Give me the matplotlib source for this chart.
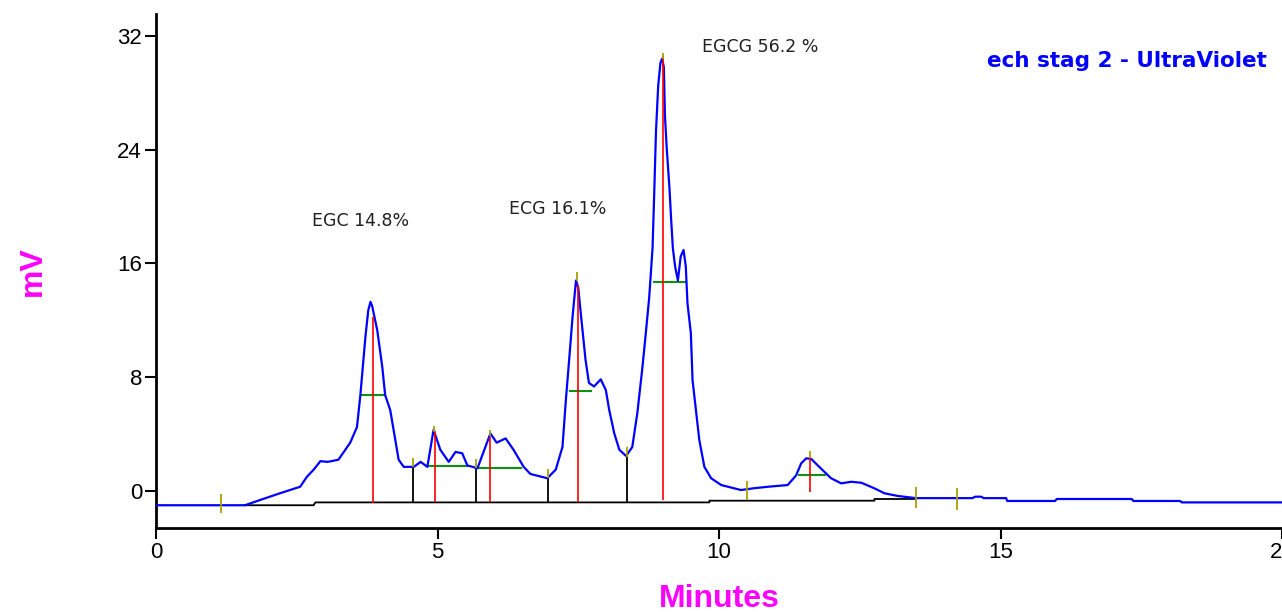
import matplotlib
matplotlib.use('Agg')
import matplotlib.pyplot as plt

# chromatogram trace (minutes, mV)
time = [0.0, 1.58, 1.85, 2.2, 2.56, 2.68, 2.8, 2.92, 3.05, 3.24, 3.45, 3.57, 3.63, 3.72, 3.77,
        3.81, 3.84, 3.93, 4.02, 4.07, 4.16, 4.25, 4.31, 4.40, 4.58, 4.70, 4.82, 4.93, 5.05,
        5.20, 5.32, 5.44, 5.53, 5.71, 5.94, 6.05, 6.21, 6.35, 6.53, 6.65, 6.95, 7.10, 7.22,
        7.28, 7.34, 7.40, 7.46, 7.50, 7.55, 7.63, 7.69, 7.78, 7.90, 7.99, 8.05, 8.14, 8.23,
        8.35, 8.46, 8.55, 8.64, 8.70, 8.76, 8.82, 8.85, 8.88, 8.92, 8.96, 8.99, 9.02, 9.04,
        9.07, 9.12, 9.15, 9.18, 9.22, 9.27, 9.32, 9.37, 9.41, 9.44, 9.50, 9.53, 9.59, 9.65,
        9.74, 9.86, 10.04, 10.39, 10.63, 10.87, 11.22, 11.37, 11.46, 11.55, 11.64, 11.78,
        11.99, 12.17, 12.35, 12.53, 12.76, 12.94, 13.18, 13.5, 14.5, 14.55, 14.66, 14.7,
        15.1, 15.12, 15.97, 16.0, 17.33, 17.36, 18.19, 18.22, 20.0]
signal = [-1.0, -1.0, -0.63, -0.16, 0.3, 1.0, 1.5, 2.1, 2.05, 2.2, 3.4, 4.5, 6.75, 10.85, 12.7,
          13.3, 13.0, 11.3, 8.7, 6.75, 5.7, 3.6, 2.2, 1.7, 1.7, 2.05, 1.7, 4.3, 2.9,
          2.05, 2.75, 2.65, 1.8, 1.6, 4.05, 3.4, 3.7, 2.9, 1.7, 1.2, 0.9, 1.5, 3.1,
          6.4, 9.3, 12.3, 14.8, 14.3, 12.3, 9.2, 7.6, 7.35, 7.85, 7.1, 5.7, 4.05, 2.9,
          2.46, 3.1, 5.5, 8.7, 11.1, 13.6, 17.1, 21.0, 25.2, 28.5, 30.1, 30.4, 29.8, 26.4,
          24.2, 21.3, 19.1, 17.1, 15.8, 14.8, 16.5, 16.95, 15.8, 13.2, 11.1, 7.8, 5.7, 3.6,
          1.7, 0.9, 0.42, 0.07, 0.2, 0.3, 0.42, 1.1, 1.95, 2.3, 2.25, 1.7,
          0.9, 0.54, 0.65, 0.58, 0.19, -0.16, -0.35, -0.5, -0.5, -0.4, -0.4, -0.5,
          -0.5, -0.7, -0.7, -0.56, -0.56, -0.7, -0.7, -0.8, -0.8]

# integration baseline
base_t = [1.58, 2.8, 2.83, 9.83, 9.83, 12.76, 12.76, 13.5]
base_v = [-1.0, -1.0, -0.8, -0.8, -0.68, -0.68, -0.56, -0.56]

# peak separators (black drops)
drop_t = [4.57, 5.69, 6.96, 8.37]
drop_top = [1.7, 1.6, 0.9, 2.46]
drop_bot = [-0.8, -0.8, -0.8, -0.8]

# apex lines (red)
apex_t = [3.85, 4.95, 5.93, 7.49, 9.01, 11.62]
apex_top = [12.25, 4.2, 3.8, 14.5, 30.6, 2.3]
apex_bot = [-0.85, -0.8, -0.8, -0.8, -0.63, -0.05]

# half height widths (green)
half_t0 = [3.63, 4.82, 5.71, 7.34, 8.82, 11.40]
half_t1 = [4.07, 5.56, 6.50, 7.75, 9.41, 11.90]
half_v = [6.75, 1.78, 1.64, 7.05, 14.7, 1.12]

# event marks (olive)
mark_t = [1.15, 4.57, 4.93, 5.69, 5.94, 6.96, 7.48, 8.37, 9.0, 10.49, 11.62, 13.5, 14.23]
mark_lo = [-1.55, 1.7, 4.17, 1.6, 3.9, 0.9, 14.8, 2.4, 30.4, -0.63, 2.3, -1.2, -1.35]
mark_hi = [-0.2, 2.35, 4.57, 2.25, 4.3, 1.55, 15.4, 3.1, 30.8, 0.7, 2.83, 0.3, 0.2]

labels = ['EGC 14.8%', 'ECG 16.1%', 'EGCG 56.2 %']
label_t = [2.77, 6.27, 9.7]
label_v = [18.6, 19.5, 30.9]

plt.rcParams['font.family'] = ['Liberation Sans', 'DejaVu Sans']

fig = plt.figure(figsize=(12.82, 6.12), dpi=100)
ax = fig.add_axes([156 / 1282, 84 / 612, 1126 / 1282, 514 / 612])

ax.plot(time, signal, color='#0000ff', lw=1.6, zorder=3)
ax.plot(base_t, base_v, color='black', lw=1.3, zorder=2)
ax.vlines(drop_t, drop_bot, drop_top, color='black', lw=1.3, zorder=2)
ax.vlines(apex_t, apex_bot, apex_top, color='#ff0000', lw=1.2, zorder=4)
ax.hlines(half_v, half_t0, half_t1, color='#109010', lw=1.5, zorder=2)
ax.vlines(mark_t, mark_lo, mark_hi, color='#a8a000', lw=1.3, zorder=5)

for txt, tx, ty in zip(labels, label_t, label_v):
    ax.text(tx, ty, txt, fontsize=12.5, color='#202020', ha='left', va='baseline',
            family='DejaVu Sans')

ax.text(0.9867, 0.8975, 'ech stag 2 - UltraViolet', transform=ax.transAxes,
        fontsize=15.5, fontweight='bold', color='#0000ff', ha='right', va='baseline',
        family='DejaVu Sans')

ax.set_xlim(0, 20)
ax.set_ylim(-2.6, 33.54)
ax.set_xticks([0, 5, 10, 15, 20])
ax.set_yticks([0, 8, 16, 24, 32])
ax.tick_params(axis='both', direction='out', length=8, width=1.5, labelsize=16,
               colors='black', pad=2)
for side in ['top', 'right']:
    ax.spines[side].set_visible(False)
for side in ['left', 'bottom']:
    ax.spines[side].set_linewidth(2)

ax.set_ylabel('mV', color='#ff00ff', fontsize=23, fontweight='bold', labelpad=50)
ax.set_xlabel('Minutes', color='#ff00ff', fontsize=23, fontweight='bold', labelpad=15)

fig.savefig('out.png', dpi=100)
